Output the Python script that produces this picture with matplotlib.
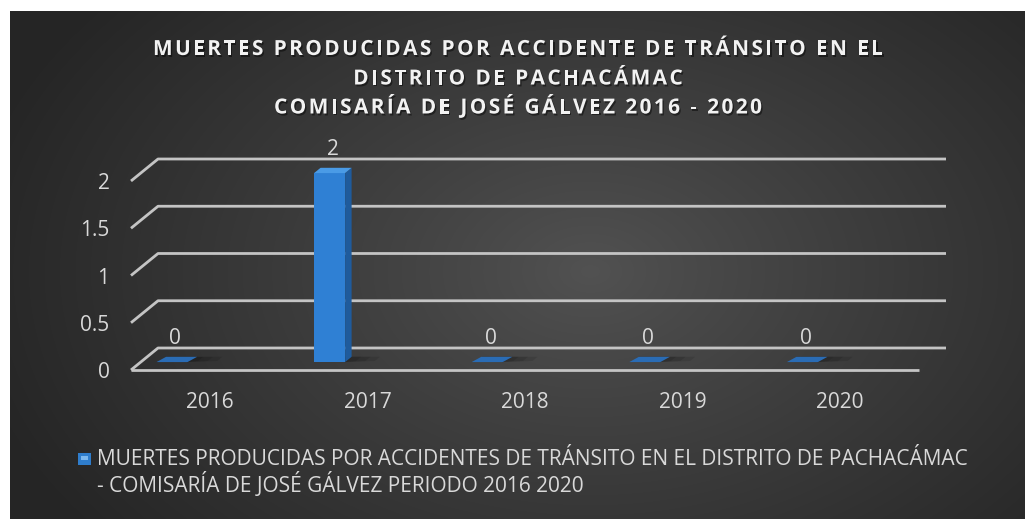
import numpy as np
import matplotlib
matplotlib.use("Agg")
import matplotlib.pyplot as plt
from matplotlib import patheffects
from matplotlib.font_manager import FontProperties, findfont
from matplotlib.ft2font import FT2Font
from matplotlib.patches import Polygon, Rectangle

# data
years = ["2016", "2017", "2018", "2019", "2020"]
deaths = [0, 2, 0, 0, 0]
y_ticks = [0, 0.5, 1, 1.5, 2]
y_tick_labels = ["0", "0.5", "1", "1.5", "2"]
title_lines = ["MUERTES PRODUCIDAS POR ACCIDENTE DE TRÁNSITO EN EL",
               "DISTRITO DE PACHACÁMAC",
               "COMISARÍA DE JOSÉ GÁLVEZ 2016 - 2020"]
legend_lines = ["MUERTES PRODUCIDAS POR ACCIDENTES DE TRÁNSITO EN EL DISTRITO DE PACHACÁMAC",
                "- COMISARÍA DE JOSÉ GÁLVEZ PERIODO 2016 2020"]

W, H = 1025, 519
FONT = "Open Sans"
TXT = "#d9d9d9"
GRID = "#c4c4c4"

fig = plt.figure(figsize=(W / 100, H / 100), dpi=100)
fig.patch.set_facecolor("white")

# dark radial background
bg = fig.add_axes([10 / W, 0, (W - 10) / W, (H - 11) / H])
yy, xx = np.mgrid[0:508, 0:1015]
r = np.sqrt(((xx - 580) / 640.0) ** 2 + ((yy - 260) / 430.0) ** 2)
r = np.clip(r, 0, 1) ** 0.9
c_in = np.array([0x52, 0x52, 0x52]) / 255.0
c_out = np.array([0x25, 0x25, 0x25]) / 255.0
img = c_in + (c_out - c_in) * r[..., None]
bg.imshow(img, aspect="auto", interpolation="bilinear")
bg.axis("off")

# main axes = front plane of the 3d box
ax = fig.add_axes([131 / W, (H - 370) / H, 788 / W, 189 / H])
ax.set_xlim(0, 5)
ax.set_ylim(0, 2)
ax.patch.set_visible(False)
for s in ax.spines.values():
    s.set_visible(False)

DX = 27 / 157.6   # depth offset in data units
DY = 22 / 94.5


def P(x, y, d):
    return (x + d * DX, y + d * DY)


# gridlines: diagonal on the left side + back wall line
for y in y_ticks:
    ax.plot([0, DX, 5 + DX], [y, y + DY, y + DY], color=GRID, lw=2.0,
            clip_on=False, zorder=1, solid_capstyle="butt")
ax.plot([0, 5], [0, 0], color=GRID, lw=2.0, clip_on=False, zorder=1,
        solid_capstyle="butt")

# bars
d0, d1 = 0.36, 0.60
bw = 0.197
for i, v in enumerate(deaths):
    x0 = i + 0.10
    x1 = x0 + bw
    # soft shadow on the floor
    for k, a in enumerate([0.10, 0.10, 0.10]):
        sh = [P(x0 + 0.02, 0, d1), P(x1 + 0.06 + 0.06 * k, 0, d1),
              P(x1 + 0.06 + 0.06 * k, 0, d0 + 0.05), P(x1, 0, d0)]
        ax.add_patch(Polygon(sh, closed=True, fc="black", ec="none",
                             alpha=a, zorder=2, clip_on=False))
    if v > 0:
        front = [P(x0, 0, d0), P(x1, 0, d0), P(x1, v, d0), P(x0, v, d0)]
        side = [P(x1, 0, d0), P(x1, 0, d1), P(x1, v, d1), P(x1, v, d0)]
        top = [P(x0, v, d0), P(x1, v, d0), P(x1, v, d1), P(x0, v, d1)]
        ax.add_patch(Polygon(front, closed=True, fc="#2f80d4", ec="none",
                             zorder=3, clip_on=False))
        ax.add_patch(Polygon(side, closed=True, fc="#1f5b9c", ec="none",
                             zorder=3, clip_on=False))
        ax.add_patch(Polygon(top, closed=True, fc="#4a9be6", ec="none",
                             zorder=3, clip_on=False))
    else:
        top = [P(x0, 0, d0), P(x1, 0, d0), P(x1 + 0.02, 0, d1), P(x0 + 0.02, 0, d1)]
        ax.add_patch(Polygon(top, closed=True, fc="#2a6cb5", ec="none",
                             zorder=3, clip_on=False))
    ax.annotate(str(v), xy=P((x0 + x1) / 2, v, (d0 + d1) / 2),
                xytext=(0, 15), textcoords="offset points",
                ha="center", va="center", color=TXT, fontsize=15,
                family=FONT, zorder=4, annotation_clip=False)

# axis tick labels
ax.set_xticks([i + 0.5 for i in range(len(years))])
ax.set_xticklabels(years, color=TXT, fontsize=15, family=FONT)
ax.set_yticks(y_ticks)
ax.set_yticklabels(y_tick_labels, color=TXT, fontsize=15, family=FONT)
ax.tick_params(axis="x", length=0, pad=16)
ax.tick_params(axis="y", length=0, pad=15.5)

# title, letter spaced, drawn char by char
TSIZE = 15
tprop = FontProperties(family=FONT, weight="bold", size=TSIZE)
ft = FT2Font(findfont(tprop))
ft.set_size(TSIZE, 72)


def advances(s):
    return [ft.load_char(ord(c)).linearHoriAdvance / 65536.0 * 100 / 72 for c in s]


adv0 = advances(title_lines[0])
spacing = (730 - sum(adv0[:-1]) - adv0[-1]) / (len(title_lines[0]) - 1)
shadow = [patheffects.SimplePatchShadow(offset=(1.0, -1.4), shadow_rgbFace="black",
                                        alpha=0.45),
          patheffects.Normal()]
for line, yc in zip(title_lines, [47.5, 77, 106]):
    adv = advances(line)
    total = sum(adv) + spacing * (len(line) - 1)
    x = 518 - total / 2
    base = yc + 7.5
    for c, a in zip(line, adv):
        if c != " ":
            fig.text(x / W, 1 - base / H, c, fontproperties=tprop, color="#f2f2f2",
                     ha="left", va="baseline", path_effects=shadow)
        x += a + spacing

# legend
fig.patches.append(Rectangle((78 / W, 1 - 465 / H), 13 / W, 12 / H,
                             transform=fig.transFigure, fc="#2f7dcc", ec="none"))
fig.patches.append(Rectangle((81 / W, 1 - 460 / H), 7 / W, 4 / H,
                             transform=fig.transFigure, fc="#7db8ee", ec="none"))
for line, base in zip(legend_lines, [465, 492]):
    fig.text(97 / W, 1 - base / H, line, color=TXT, fontsize=15, family=FONT,
             ha="left", va="baseline")

fig.savefig("out.png", dpi=100)
